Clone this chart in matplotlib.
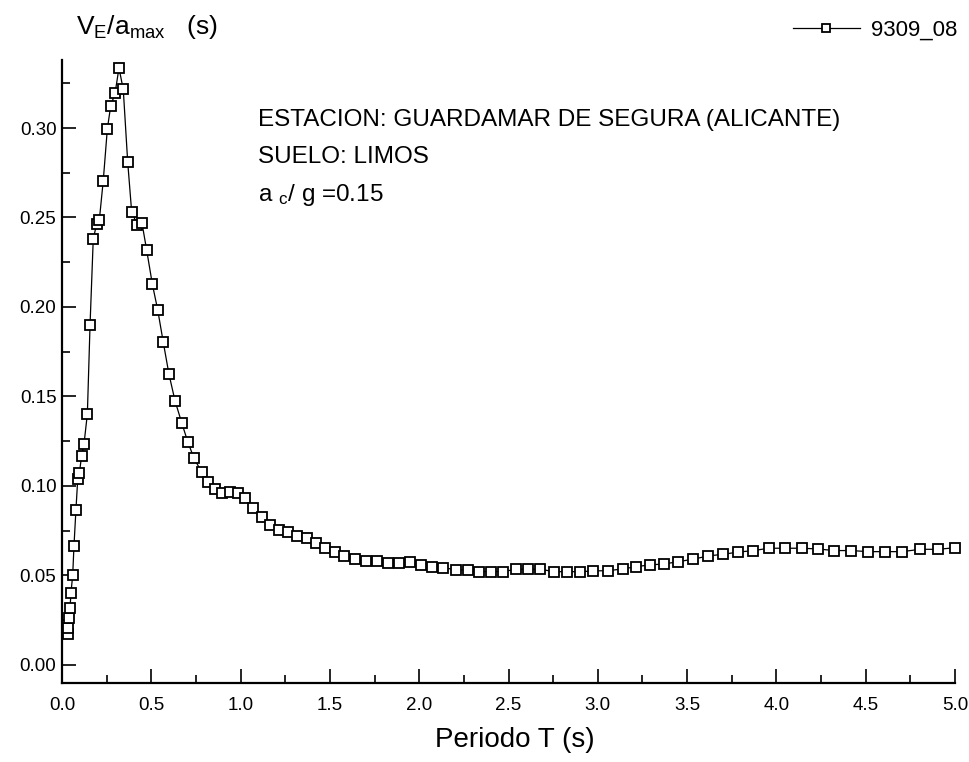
import matplotlib
matplotlib.use("Agg")
import matplotlib.pyplot as plt
from matplotlib.ticker import MultipleLocator, FormatStrFormatter

plt.rcParams['font.family'] = ['Liberation Sans', 'DejaVu Sans']
plt.rcParams['mathtext.fontset'] = 'custom'
plt.rcParams['mathtext.rm'] = 'Liberation Sans'
plt.rcParams['mathtext.it'] = 'Liberation Sans'

series_name = "9309_08"
periods = [0.032, 0.035, 0.039, 0.045, 0.050, 0.060, 0.067, 0.078, 0.088, 0.097,
           0.110, 0.123, 0.142, 0.157, 0.175, 0.194, 0.209, 0.231, 0.254, 0.273,
           0.297, 0.319, 0.343, 0.368, 0.390, 0.422, 0.448, 0.474, 0.506, 0.536,
           0.567, 0.599, 0.633, 0.670, 0.704, 0.739, 0.782, 0.819, 0.857, 0.894,
           0.941, 0.987, 1.027, 1.071, 1.118, 1.165, 1.215, 1.264, 1.317, 1.370,
           1.422, 1.473, 1.529, 1.581, 1.641, 1.700, 1.762, 1.824, 1.887, 1.949,
           2.010, 2.073, 2.135, 2.204, 2.272, 2.337, 2.402, 2.471, 2.540, 2.607,
           2.676, 2.755, 2.826, 2.900, 2.975, 3.059, 3.139, 3.214, 3.292, 3.372,
           3.451, 3.535, 3.619, 3.699, 3.783, 3.871, 3.959, 4.048, 4.142, 4.231,
           4.324, 4.418, 4.515, 4.608, 4.705, 4.804, 4.906, 5.000]
ve_amax = [0.0172, 0.0205, 0.0261, 0.0317, 0.0401, 0.0503, 0.0665, 0.0866, 0.1037, 0.1071,
           0.1169, 0.1233, 0.1402, 0.1899, 0.2380, 0.2464, 0.2486, 0.2706, 0.2996, 0.3125,
           0.3194, 0.3335, 0.3216, 0.2808, 0.2532, 0.2458, 0.2468, 0.2318, 0.2127, 0.1983,
           0.1803, 0.1624, 0.1475, 0.1354, 0.1247, 0.1155, 0.1077, 0.1024, 0.0982, 0.0963,
           0.0968, 0.0959, 0.0933, 0.0875, 0.0825, 0.0782, 0.0754, 0.0745, 0.0721, 0.0711,
           0.0680, 0.0652, 0.0630, 0.0611, 0.0591, 0.0581, 0.0581, 0.0572, 0.0572, 0.0574,
           0.0559, 0.0549, 0.0544, 0.0531, 0.0531, 0.0521, 0.0521, 0.0521, 0.0535, 0.0535,
           0.0535, 0.0521, 0.0521, 0.0521, 0.0525, 0.0527, 0.0536, 0.0549, 0.0559, 0.0564,
           0.0577, 0.0591, 0.0609, 0.0618, 0.0630, 0.0639, 0.0652, 0.0652, 0.0652, 0.0648,
           0.0639, 0.0639, 0.0633, 0.0633, 0.0633, 0.0646, 0.0646, 0.0655]

annotation_lines = ["ESTACION: GUARDAMAR DE SEGURA (ALICANTE)",
                    "SUELO: LIMOS",
                    r"a $_\mathregular{c}$/ g =0.15"]
x_label = "Periodo T (s)"
y_label = r"V$_\mathregular{E}$/a$_\mathregular{max}$   (s)"

W, H = 970, 762
fig = plt.figure(figsize=(W / 100, H / 100), dpi=100)
ax = fig.add_axes([62 / W, 1 - 683 / H, (955 - 62) / W, (683 - 60) / H])

ax.plot(periods, ve_amax, color='black', lw=0.9, marker='s', ms=7.5,
        mfc='white', mec='black', mew=1.3, label=series_name, clip_on=False)

ax.set_xlim(0, 5.0)
ax.set_ylim(-0.0101, 0.338)
ax.xaxis.set_major_locator(MultipleLocator(0.5))
ax.xaxis.set_minor_locator(MultipleLocator(0.25))
ax.yaxis.set_major_locator(MultipleLocator(0.05))
ax.yaxis.set_minor_locator(MultipleLocator(0.025))
ax.xaxis.set_major_formatter(FormatStrFormatter('%.1f'))
ax.yaxis.set_major_formatter(FormatStrFormatter('%.2f'))
ax.tick_params(which='both', direction='in', top=False, right=False, width=1.2)
ax.tick_params(which='major', length=10, labelsize=13.5)
ax.tick_params(which='minor', length=6)
ax.tick_params(axis='x', pad=10)
ax.tick_params(axis='y', pad=4)
for s in ['top', 'right']:
    ax.spines[s].set_visible(False)
for s in ['left', 'bottom']:
    ax.spines[s].set_linewidth(1.6)

ys = [120, 157, 195]
for line, yy in zip(annotation_lines, ys):
    fig.text(258 / W, 1 - yy / H, line, fontsize=17.5, va='center', ha='left')

fig.text(76 / W, 1 - 27 / H, y_label, fontsize=19, va='center', ha='left')
fig.text(515 / W, 1 - 740 / H, x_label, fontsize=20, va='center', ha='center')

leg = fig.legend(loc='center right', bbox_to_anchor=(966 / W, 1 - 30 / H),
                 frameon=False, fontsize=16, handlelength=3.0, markerscale=0.8,
                 handletextpad=0.5, borderaxespad=0)

fig.savefig("out.png", dpi=100)
